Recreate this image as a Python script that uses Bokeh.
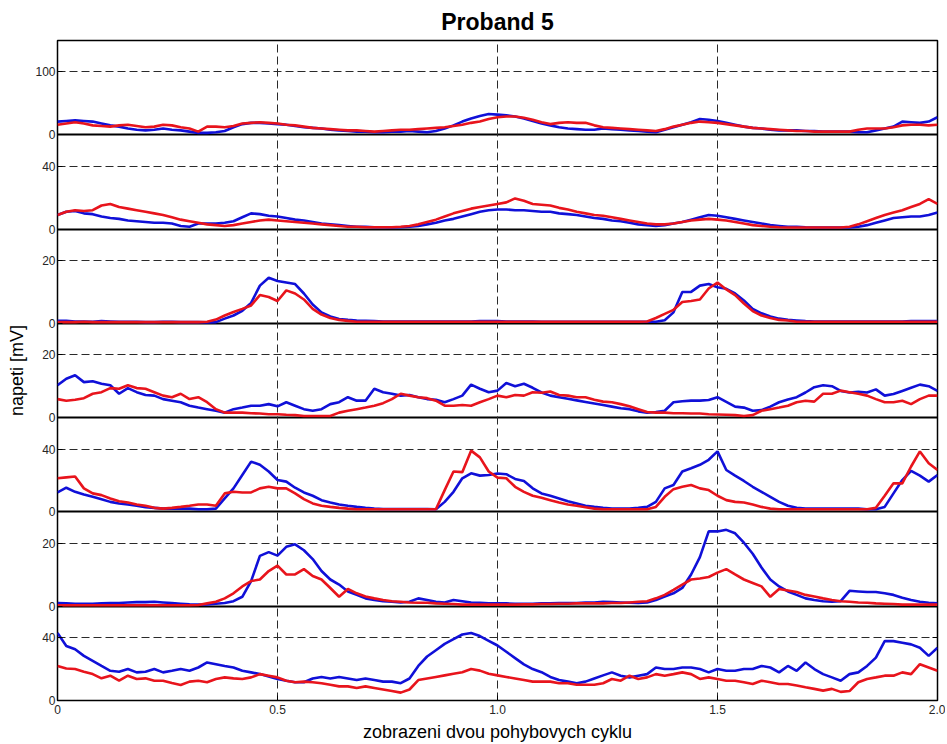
from bokeh.plotting import figure
from bokeh.models import Range1d, FixedTicker, LinearAxis, Grid
from bokeh.embed import file_html
from bokeh.resources import INLINE

# ---------------- data ----------------
x = [round(i * 0.02, 2) for i in range(101)]   # sample positions 0 .. 2.0

p1_blue = [21, 22, 23, 22, 21, 18, 15, 13, 10, 8,
           7, 8, 10, 8, 7, 5, 3, 3, 4, 6,
           12, 17, 19, 19, 18, 17, 16, 14, 12, 11,
           10, 8, 7, 6, 5, 5, 4, 4, 5, 5,
           6, 5, 4, 6, 10, 15, 21, 26, 30, 33,
           32, 31, 29, 26, 22, 18, 15, 12, 10, 9,
           8, 8, 10, 9, 8, 7, 6, 5, 4, 8,
           12, 16, 20, 25, 24, 22, 19, 16, 13, 11,
           10, 8, 7, 7, 7, 6, 6, 5, 5, 5,
           5, 4, 4, 7, 10, 13, 21, 20, 19, 21,
           28]
p1_red = [16, 18, 20, 18, 15, 14, 13, 15, 16, 14,
          12, 13, 16, 15, 12, 10, 5, 13, 13, 12,
          14, 18, 19, 20, 19, 18, 16, 15, 13, 11,
          10, 9, 8, 7, 7, 6, 5, 6, 7, 8,
          8, 9, 10, 11, 12, 14, 16, 19, 21, 25,
          28, 29, 29, 27, 24, 20, 17, 19, 20, 19,
          19, 15, 12, 11, 10, 9, 8, 7, 6, 9,
          13, 16, 19, 21, 20, 19, 17, 15, 13, 11,
          10, 9, 8, 7, 6, 6, 5, 5, 5, 5,
          5, 8, 10, 10, 10, 12, 15, 16, 16, 15,
          16]

p2_blue = [9, 11, 11.5, 10, 9.5, 8, 7, 6.5, 5.5, 5,
           4.5, 4, 4, 3.5, 2, 1.5, 3.5, 3.5, 3.5, 4,
           5, 7.5, 10, 9.5, 8.5, 8, 7, 6, 5.5, 4.5,
           3.5, 3, 2.5, 2, 1.5, 1.5, 1.2, 1.2, 1, 1.2,
           1.5, 2, 3, 4, 5.5, 6.5, 8, 9.5, 11, 12,
           12.5, 12.5, 12, 12, 11.5, 11, 11, 10, 9.5, 9,
           8, 7, 6.5, 5.5, 5, 4, 3, 2.5, 2, 2.5,
           3.5, 4.5, 6, 7.5, 9, 8.5, 7.5, 6.5, 5.5, 4.5,
           3.5, 2.5, 2, 1.5, 1.5, 1.2, 1, 1, 1, 1,
           1, 1.5, 2.5, 4, 5.5, 7, 7.5, 8, 8, 9,
           10.5]
p2_red = [9, 11, 12, 11.5, 12, 15, 16, 14, 13, 12,
          11, 10, 9, 7.5, 6, 5, 4, 3, 2.5, 2,
          2.5, 3.5, 4.5, 5.5, 6, 5.5, 5, 4.5, 4, 3.5,
          3, 2.5, 2, 1.5, 1.5, 1.2, 1.2, 1.2, 1.2, 1.5,
          2, 3, 4.5, 6, 8, 10, 11.5, 13, 14, 15,
          16, 17, 19.5, 18, 16, 15.5, 15, 13.5, 12.5, 11,
          10, 9, 8.5, 7.5, 6.5, 5.5, 4.5, 3.5, 3, 3,
          3.5, 4.5, 5.5, 6, 6.5, 6, 5.5, 4.5, 3.5, 2.5,
          2, 1.5, 1.2, 1, 1, 1, 1, 1, 1, 1,
          1.5, 3, 5, 7, 9, 10.5, 12, 14, 16, 19,
          16]

p3_blue = [0.8, 0.8, 0.6, 0.6, 0.5, 0.7, 0.6, 0.5, 0.5, 0.5,
           0.4, 0.4, 0.5, 0.5, 0.4, 0.4, 0.4, 0.3, 0.4, 1.5,
           2.5, 4, 6.5, 12, 14.5, 13.5, 13, 12.5, 9.5, 6,
           3.5, 2.2, 1.4, 1.1, 0.9, 0.8, 0.7, 0.6, 0.6, 0.6,
           0.6, 0.6, 0.6, 0.6, 0.6, 0.6, 0.6, 0.6, 0.7, 0.7,
           0.7, 0.6, 0.6, 0.6, 0.6, 0.5, 0.5, 0.5, 0.5, 0.5,
           0.5, 0.5, 0.5, 0.5, 0.5, 0.5, 0.5, 0.5, 0.5, 1.0,
           3.5, 10, 10, 12, 12.5, 11.5, 11, 9.5, 7.3, 4.6,
           3.2, 2.2, 1.5, 1.1, 0.9, 0.7, 0.6, 0.6, 0.6, 0.6,
           0.6, 0.6, 0.6, 0.6, 0.6, 0.6, 0.6, 0.7, 0.7, 0.7,
           0.7]
p3_red = [0.4, 0.4, 0.4, 0.5, 0.4, 0.4, 0.4, 0.4, 0.4, 0.4,
          0.4, 0.4, 0.4, 0.4, 0.4, 0.4, 0.4, 0.5, 1.2, 2.5,
          3.6, 4.6, 5.7, 9, 8.4, 7.1, 10.5, 9.5, 7.6, 4.6,
          2.8, 1.7, 1.1, 0.8, 0.5, 0.5, 0.5, 0.5, 0.5, 0.5,
          0.5, 0.5, 0.5, 0.5, 0.5, 0.5, 0.5, 0.5, 0.5, 0.5,
          0.5, 0.5, 0.5, 0.5, 0.5, 0.5, 0.5, 0.5, 0.5, 0.5,
          0.5, 0.5, 0.5, 0.5, 0.5, 0.5, 0.5, 0.6, 1.7, 3,
          4.3, 6.8, 7.1, 7.6, 11.1, 13, 10.8, 9, 6.3, 3.9,
          2.5, 1.7, 1.1, 0.9, 0.5, 0.5, 0.5, 0.5, 0.5, 0.5,
          0.5, 0.5, 0.5, 0.5, 0.5, 0.5, 0.5, 0.5, 0.5, 0.5,
          0.5]

p4_blue = [10.3, 12.4, 13.5, 11.3, 11.6, 10.8, 10.3, 7.6, 9.4, 8.1,
           7.2, 7, 5.9, 5.4, 4.9, 3.8, 3.2, 2.7, 2.2, 1.6,
           2.7, 3.2, 3.8, 3.8, 4.3, 3.6, 4.9, 3.8, 2.7, 2.2,
           2.7, 4.3, 4.9, 6.5, 5.4, 5.4, 9.2, 8.1, 7.6, 7,
           7.2, 6.5, 5.9, 5.7, 4.9, 5.9, 7, 10.5, 9.2, 8.1,
           8.6, 11, 10, 10.8, 9.5, 8, 7, 6.5, 6, 5.5,
           5, 4.5, 4, 3.5, 3, 2.7, 2, 1.6, 1.8, 2.2,
           4.9, 5.2, 5.4, 5.4, 5.6, 6.5, 5, 3.5, 3.2, 2.2,
           2.4, 3.5, 4.9, 5.8, 6.5, 8, 9.7, 10.3, 10, 8.5,
           8, 8.2, 8, 9, 7, 7.5, 8.5, 9.5, 10.5, 10,
           8.5]
p4_red = [5.9, 5.4, 5.7, 6.2, 7.6, 8.1, 9.4, 9.2, 10.3, 9.4,
          9.2, 8.1, 7, 6.5, 7.6, 5.9, 6.5, 4.9, 2.7, 1.6,
          1.6, 1.6, 1.4, 1.3, 1.1, 1.1, 0.9, 0.8, 0.5, 0.5,
          0.5, 0.5, 1.6, 2.2, 2.7, 3.2, 3.8, 4.6, 5.9, 7.6,
          7, 6.5, 6.2, 5.4, 3.8, 3.8, 4, 3.8, 4.9, 5.9,
          7, 6.5, 7.2, 7, 8.1, 7.9, 8.3, 7.2, 7, 6.5,
          6.5, 5.7, 5.1, 4.9, 4.3, 3.6, 2.7, 1.8, 1.6, 1.6,
          1.4, 1.4, 1.3, 1.3, 1.1, 1, 0.9, 0.8, 0.5, 0.8,
          2.2, 2.7, 3.2, 3.8, 4.9, 5.4, 5.1, 7.6, 7.6, 8.6,
          8.1, 7.6, 7, 5.9, 4.9, 4.9, 5.4, 4.3, 5.9, 7,
          7]

p5_blue = [12.4, 15.4, 12.8, 11.1, 9.6, 8.1, 6.4, 5.4, 4.7, 3.9,
           3, 2.6, 2.1, 2.1, 2.1, 2.1, 1.7, 1.7, 2.1, 8.6,
           15, 23.5, 32, 30, 25.7, 20.3, 19.3, 15.4, 12.4, 10.3,
           7.5, 6, 4.7, 3.9, 3.2, 2.6, 2.1, 1.9, 1.9, 1.9,
           1.9, 1.9, 1.9, 1.7, 6.4, 12.8, 21.4, 24.6, 23.1, 23.5,
           24.5, 24, 21, 19.7, 15, 11.8, 10.3, 8.6, 6.8, 5.4,
           3.9, 3.2, 2.6, 2.1, 2.1, 2.1, 2.6, 3.2, 6.4, 15,
           17.1, 25.7, 27.8, 30, 33.2, 38.5, 26.7, 23.1, 19.7, 16,
           12.8, 9.6, 6.4, 3.9, 2.6, 2.1, 2.1, 2.1, 2.1, 2.1,
           2.1, 2.1, 1.7, 1.7, 3.2, 11.8, 20.3, 26.1, 23.1, 19.3,
           23.5]
p5_red = [21.4, 22, 22.5, 15, 11.8, 10.7, 8.6, 6.8, 6, 4.7,
          3.9, 2.6, 2.1, 2.6, 3.2, 3.9, 4.7, 4.7, 3.9, 11.8,
          12.8, 12.4, 12.4, 15, 16, 15, 15, 11.8, 8.1, 5.4,
          3.9, 3.2, 2.6, 2.1, 1.7, 1.7, 1.7, 1.7, 1.7, 1.7,
          1.7, 1.7, 1.7, 1.7, 13.9, 25.7, 25.3, 39, 34.7, 25.7,
          21.8, 21.4, 16, 12.8, 10.3, 9, 7.5, 6, 4.7, 3.9,
          3, 2.1, 1.7, 1.7, 1.7, 1.7, 1.7, 1.7, 3.2, 9.6,
          14.5, 16, 17.1, 15, 13.9, 10.3, 7.5, 6.4, 6, 4.7,
          3.2, 2.1, 1.7, 1.7, 1.7, 1.7, 1.7, 1.7, 1.7, 1.7,
          1.7, 1.7, 1.7, 2.6, 10.3, 18.2, 18.2, 28.9, 38.5, 31,
          26.7]

p6_blue = [1, 0.9, 0.8, 0.8, 0.8, 0.9, 1, 1, 1.2, 1.3,
           1.3, 1.4, 1.2, 1, 0.8, 0.6, 0.5, 0.6, 0.8, 1,
           1.6, 3, 8, 16, 17.2, 16.1, 18.9, 19.7, 17.8, 15,
           11.2, 8.5, 6.9, 4.7, 3.6, 2.5, 2, 1.6, 1.4, 1.2,
           1.4, 2.5, 2, 1.4, 1.2, 2, 1.6, 1.2, 1.1, 0.9,
           0.9, 0.9, 0.8, 0.8, 0.8, 0.9, 0.9, 1, 1, 1,
           1.2, 1.2, 1.4, 1.3, 1.2, 1.1, 1, 1.2, 2, 3.1,
           4.1, 5.8, 10.1, 15.6, 23.8, 23.8, 24.3, 23.2, 20.2, 16.7,
           12.3, 8.5, 6.3, 4.7, 3.6, 2.5, 2, 1.6, 1.4, 1.6,
           4.9, 4.7, 4.5, 4.5, 4.1, 3.6, 2.7, 2, 1.4, 1.1,
           0.9]
p6_red = [0.3, 0.3, 0.3, 0.3, 0.3, 0.3, 0.3, 0.3, 0.3, 0.3,
          0.3, 0.3, 0.3, 0.3, 0.3, 0.3, 0.4, 0.9, 1.4, 2.5,
          4.1, 6.3, 8, 8.5, 11.2, 12.9, 10.1, 10.1, 11.8, 9.6,
          8.5, 5.8, 3, 5.5, 4.1, 3.1, 2.5, 2, 1.6, 1.4,
          1.2, 1.1, 1.1, 0.9, 0.8, 0.7, 0.5, 0.5, 0.5, 0.5,
          0.5, 0.5, 0.5, 0.6, 0.6, 0.7, 0.7, 0.8, 0.8, 0.9,
          0.9, 0.9, 0.9, 1, 1, 1.2, 1.4, 1.6, 2.5, 3.6,
          5.2, 6.9, 8.5, 8.8, 9.3, 10.7, 11.8, 10.1, 8.5, 7.4,
          6.3, 3, 5.5, 5, 4.5, 3.6, 3.1, 2.5, 2, 1.6,
          1.4, 1.2, 1.1, 0.9, 0.8, 0.7, 0.5, 0.5, 0.5, 0.5,
          0.5]

p7_blue = [43, 34.7, 32.6, 28.4, 25.2, 22, 18.9, 18.3, 20, 17.9,
           18.3, 20, 17.9, 18.9, 20, 18.9, 21, 24.2, 23.1, 22,
           21, 18.9, 17.9, 16.8, 15.3, 13.7, 12.6, 11.6, 11.6, 14,
           15, 14, 15, 14, 13, 14, 13, 12, 12, 11,
           14, 22, 28, 32, 36, 39, 42, 43, 41, 38,
           35, 31, 27, 23, 20, 18, 15, 13, 12, 11,
           12, 14, 16, 17.9, 15.8, 14.7, 15.8, 16.8, 21, 20,
           20, 21, 21, 20, 17.9, 20, 18.9, 18.9, 20, 20,
           22, 21, 17.9, 22, 18.9, 24.2, 20, 16.8, 14.7, 12.6,
           16.8, 17.9, 22, 27.3, 37.8, 37.8, 36.8, 35.7, 33.6, 28.4,
           33.6]
p7_red = [22, 20.4, 20, 18.3, 16.8, 14.1, 15.8, 12.6, 15.8, 13.7,
          14.1, 12.6, 12.6, 11.1, 9.9, 12, 12.6, 11.6, 13.7, 14.7,
          14.1, 13.7, 14.7, 16.8, 15.8, 14.7, 12.6, 11.6, 12, 11.6,
          11, 10, 9, 9, 8, 9, 8, 7, 6, 5,
          7, 13, 14, 15, 16, 17, 18, 20, 19, 17,
          16, 15, 14, 13, 12, 12, 12, 11, 11, 10,
          10, 10, 11, 13.7, 12.6, 15.8, 13.7, 14.7, 16.8, 15.8,
          16.8, 17.9, 16.8, 13.7, 14.7, 13.7, 12.6, 12.6, 11.6, 10.5,
          12.6, 11.6, 10.5, 10.5, 9.5, 8.4, 7.4, 6.3, 7.4, 5.5,
          6, 11.6, 13.7, 14.7, 15.8, 15.8, 17.9, 16.8, 23.1, 21,
          18.9]

blue_series = [p1_blue, p2_blue, p3_blue, p4_blue, p5_blue, p6_blue, p7_blue]
red_series = [p1_red, p2_red, p3_red, p4_red, p5_red, p6_red, p7_red]
y_max = [150, 60, 30, 30, 60, 30, 60]      # top of each panel's scale
y_grid = [100, 40, 20, 20, 40, 20, 40]     # labelled tick / dashed line
x_ticks = [0, 0.5, 1, 1.5, 2]
x_tick_labels = ["0", "0.5", "1.0", "1.5", "2.0"]
x_grid = [0.5, 1, 1.5]

title_text = "Proband 5"
y_label = "napeti [mV]"
x_label = "zobrazeni dvou pohybovych cyklu"

for s in blue_series + red_series:
    assert len(s) == len(x), len(s)

# ---------------- styling / layout ----------------
FONT = "Liberation Sans"
BLUE = "#1010d8"
RED = "#e8141c"
GRID_COL = "#2a2a2a"
TICK_COL = "#262626"
N = 7
UNITS = 3          # each panel occupies 3 units of the stacking axis; its dashed line sits at 2

p = figure(width=945, height=744,
           x_range=Range1d(0, 2.0), y_range=Range1d(0, N * UNITS),
           toolbar_location=None, output_backend="svg",
           title=title_text,
           min_border_left=57, min_border_right=8,
           min_border_top=40, min_border_bottom=43,
           background_fill_color="white", border_fill_color="white")
p.outline_line_color = "black"
p.outline_line_width = 1.5
p.grid.visible = False

# stacking positions of panel bottoms and of their labelled ticks
bottoms = [UNITS * (N - 1 - k) for k in range(N)]
grid_pos = [b + 2 for b in bottoms]

tick_pos = sorted(bottoms + grid_pos)
overrides = {}
for k in range(N):
    overrides[bottoms[k]] = "0"
    overrides[grid_pos[k]] = str(y_grid[k])

# panel separators (solid) and dashed grid lines
p.add_layout(Grid(dimension=1, ticker=FixedTicker(ticks=[b for b in bottoms if b > 0]),
                  grid_line_color="black", grid_line_width=1.8), "center")
p.add_layout(Grid(dimension=1, ticker=FixedTicker(ticks=grid_pos),
                  grid_line_color=GRID_COL, grid_line_dash="8 4", grid_line_width=1), "center")
p.add_layout(Grid(dimension=0, ticker=FixedTicker(ticks=x_grid),
                  grid_line_color=GRID_COL, grid_line_dash="8 4", grid_line_width=1), "center")

ya = p.yaxis[0]
ya.ticker = FixedTicker(ticks=tick_pos)
ya.major_label_overrides = overrides
ya.major_label_text_font = FONT
ya.major_label_text_font_size = "12px"
ya.major_label_text_color = TICK_COL
ya.major_label_standoff = 2
ya.major_tick_in = 5
ya.major_tick_out = 0
ya.major_tick_line_color = "black"
ya.minor_tick_line_color = None
ya.axis_line_color = None
ya.axis_label = y_label
ya.axis_label_text_font = FONT
ya.axis_label_text_font_size = "18px"
ya.axis_label_text_font_style = "normal"
ya.axis_label_text_color = "black"
ya.axis_label_standoff = 5

ra = LinearAxis(ticker=FixedTicker(ticks=grid_pos),
                major_label_text_font_size="1px", major_label_text_color=None,
                major_label_standoff=0,
                major_tick_in=5, major_tick_out=0, major_tick_line_color="black",
                minor_tick_line_color=None, axis_line_color=None)
p.add_layout(ra, "right")

xa = p.xaxis[0]
xa.ticker = FixedTicker(ticks=x_ticks)
xa.major_label_overrides = {t: lab for t, lab in zip(x_ticks, x_tick_labels)}
xa.major_label_text_font = FONT
xa.major_label_text_font_size = "12px"
xa.major_label_text_color = TICK_COL
xa.major_label_standoff = 4
xa.major_tick_in = 5
xa.major_tick_out = 0
xa.major_tick_line_color = "black"
xa.minor_tick_line_color = None
xa.axis_line_color = None
xa.axis_label = x_label
xa.axis_label_text_font = FONT
xa.axis_label_text_font_size = "18px"
xa.axis_label_text_font_style = "normal"
xa.axis_label_text_color = "black"
xa.axis_label_standoff = 5

p.title.align = "center"
p.title.text_font = FONT
p.title.text_font_size = "23px"
p.title.text_font_style = "bold"
p.title.text_color = "black"
p.title.standoff = 12

# one scale per panel, placed on its own slice of the frame
for k in range(N):
    name = f"panel{k + 1}"
    below = N - 1 - k
    p.extra_y_ranges[name] = Range1d(start=-below * y_max[k], end=(N - below) * y_max[k])
    p.line(x, blue_series[k], line_color=BLUE, line_width=2.6, y_range_name=name)
    p.line(x, red_series[k], line_color=RED, line_width=2.6, y_range_name=name)

open("out.html", "w").write(file_html(p, INLINE))
